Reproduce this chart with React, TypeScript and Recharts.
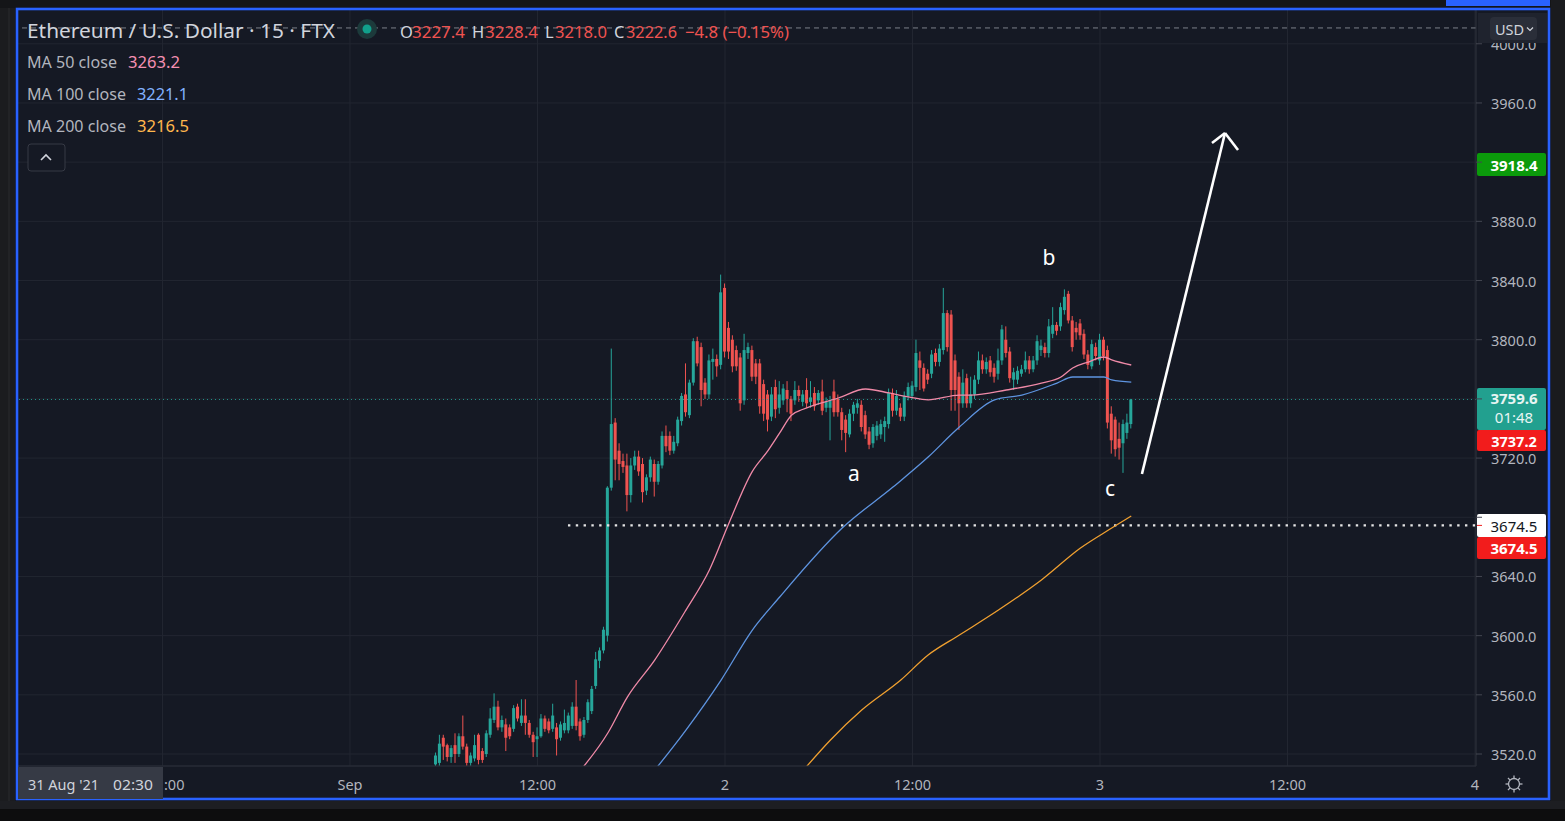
import React from 'react';
import {
  ComposedChart,
  Bar,
  Line,
  XAxis,
  YAxis,
  CartesianGrid,
  ReferenceLine,
  ReferenceDot,
} from 'recharts';

// ---------- data ----------
const START_MIN = 330; // Sep 1 05:30, minutes from Sep 1 00:00
const STEP_MIN = 15;

const opens = [
  3513, 3514, 3531, 3526, 3518, 3526, 3520, 3532, 3525, 3514, 3517, 3533, 3522, 3520, 3533, 3543, 3552, 3538, 3540, 3538,
  3537, 3552, 3541, 3546, 3541, 3533, 3530, 3532, 3544, 3542, 3537, 3538, 3531, 3536, 3536, 3539, 3552, 3542, 3533, 3543,
  3549, 3566, 3583, 3590, 3600, 3700,
  3744, 3725, 3718, 3715, 3695, 3715, 3721, 3716, 3698, 3707, 3716, 3704, 3715, 3735, 3735, 3725, 3730, 3745, 3763, 3749,
  3771, 3799, 3795, 3771, 3763, 3785, 3787,
  3783, 3835, 3808, 3800, 3793, 3788, 3759, 3791, 3793, 3784, 3784, 3770, 3763, 3748,
  3768, 3754, 3759, 3766, 3760, 3759, 3766, 3758, 3766, 3758, 3764, 3759, 3765, 3754, 3754, 3765, 3760, 3751, 3746, 3736,
  3750, 3754, 3756, 3749, 3738, 3730, 3735, 3736, 3741, 3743, 3764, 3752, 3754, 3748, 3762, 3762, 3768, 3786, 3781, 3777,
  3777, 3791, 3785,
  3793, 3818, 3817, 3786, 3775, 3757, 3774, 3757, 3763, 3773, 3786, 3780, 3786, 3781, 3777, 3786, 3800, 3792, 3773, 3773,
  3777, 3780, 3786, 3780, 3786, 3793, 3795, 3791, 3804, 3810, 3809, 3820, 3831, 3813, 3808, 3811, 3804, 3790, 3782, 3795,
  3786, 3800, 3793, 3750, 3746, 3733, 3730, 3737, 3743,
];
const highs = [
  3521, 3533, 3533, 3527, 3526, 3534, 3534, 3546, 3527, 3521, 3533, 3534, 3524, 3536, 3551, 3561, 3556, 3546, 3544, 3540,
  3553, 3554, 3557, 3557, 3543, 3535, 3538, 3547, 3546, 3544, 3554, 3541, 3542, 3550, 3548, 3555, 3570, 3544, 3545, 3557,
  3566, 3589, 3592, 3606, 3701, 3794,
  3747, 3730, 3723, 3723, 3720, 3725, 3725, 3720, 3709, 3721, 3719, 3718, 3738, 3742, 3738, 3735, 3748, 3764, 3784, 3773,
  3801, 3802, 3798, 3774, 3790, 3794, 3790,
  3844, 3838, 3812, 3803, 3796, 3791, 3804, 3798, 3796, 3787, 3787, 3773, 3766, 3768,
  3773, 3772, 3770, 3772, 3762, 3772, 3769, 3766, 3774, 3772, 3768, 3766, 3773, 3761, 3762, 3773, 3763, 3754, 3749, 3753,
  3758, 3760, 3759, 3752, 3741, 3743, 3745, 3746, 3748, 3767, 3767, 3766, 3757, 3765, 3771, 3772, 3800, 3792, 3784, 3780,
  3793, 3794, 3797,
  3835, 3820, 3820, 3790, 3778, 3780, 3777, 3775, 3776, 3792, 3790, 3788, 3789, 3784, 3794, 3810, 3809, 3795, 3781, 3782,
  3783, 3792, 3789, 3789, 3803, 3800, 3798, 3814, 3822, 3812, 3825, 3834, 3833, 3816, 3812, 3814, 3807, 3793, 3800, 3798,
  3804, 3802, 3796, 3755, 3748, 3744, 3746, 3750, 3760,
];
const lows = [
  3511, 3512, 3516, 3515, 3514, 3514, 3518, 3523, 3512, 3512, 3515, 3513, 3514, 3518, 3531, 3541, 3536, 3535, 3522, 3530,
  3535, 3542, 3539, 3533, 3531, 3518, 3518, 3531, 3535, 3534, 3535, 3519, 3529, 3534, 3534, 3537, 3536, 3529, 3531, 3541,
  3547, 3564, 3578, 3588, 3596, 3698,
  3705, 3705, 3710, 3684, 3690, 3712, 3708, 3690, 3695, 3704, 3694, 3702, 3713, 3724, 3722, 3723, 3728, 3742, 3748, 3747,
  3769, 3782, 3755, 3760, 3760, 3773, 3775,
  3780, 3788, 3787, 3778, 3779, 3752, 3756, 3787, 3772, 3770, 3750, 3745, 3738, 3745,
  3747, 3750, 3756, 3751, 3745, 3756, 3758, 3755, 3754, 3754, 3752, 3756, 3749, 3751, 3732, 3748, 3748, 3732, 3724, 3734,
  3745, 3750, 3738, 3733, 3726, 3727, 3732, 3733, 3731, 3740, 3748, 3749, 3745, 3745, 3759, 3760, 3765, 3766, 3765, 3770,
  3774, 3782, 3782,
  3790, 3792, 3752, 3752, 3739, 3754, 3754, 3754, 3760, 3770, 3777, 3777, 3775, 3771, 3773, 3783, 3788, 3771, 3766, 3770,
  3775, 3778, 3777, 3778, 3783, 3789, 3788, 3788, 3801, 3803, 3806, 3817, 3811, 3792, 3800, 3800, 3787, 3780, 3780, 3786,
  3783, 3786, 3740, 3723, 3721, 3719, 3710, 3733, 3740,
];
const closes = [
  3519, 3527, 3525, 3518, 3524, 3520, 3532, 3525, 3514, 3519, 3526, 3516, 3516, 3534, 3544, 3552, 3538, 3543, 3531, 3532,
  3551, 3544, 3546, 3541, 3533, 3528, 3532, 3544, 3537, 3536, 3546, 3530, 3540, 3541, 3546, 3552, 3539, 3532, 3543, 3555,
  3564, 3584, 3590, 3604, 3700, 3743,
  3719, 3716, 3714, 3695, 3715, 3721, 3711, 3697, 3707, 3719, 3704, 3716, 3735, 3728, 3725, 3731, 3746, 3762, 3751, 3771,
  3799, 3784, 3766, 3763, 3786, 3787, 3782,
  3832, 3792, 3792, 3782, 3782, 3757, 3793, 3795, 3775, 3775, 3755, 3750, 3746, 3763,
  3753, 3763, 3767, 3760, 3750, 3766, 3762, 3763, 3757, 3761, 3755, 3764, 3752, 3758, 3759, 3751, 3751, 3739, 3737, 3750,
  3756, 3757, 3741, 3736, 3729, 3741, 3742, 3743, 3745, 3764, 3752, 3762, 3748, 3762, 3768, 3769, 3791, 3781, 3767, 3773,
  3790, 3785, 3794,
  3818, 3795, 3766, 3766, 3757, 3771, 3757, 3763, 3773, 3786, 3780, 3785, 3778, 3775, 3786, 3807, 3791, 3774, 3778, 3779,
  3780, 3786, 3780, 3786, 3799, 3796, 3791, 3809, 3810, 3806, 3822, 3829, 3813, 3795, 3805, 3803, 3790, 3783, 3797, 3789,
  3800, 3789, 3744, 3732, 3726, 3727, 3743, 3744, 3759.6,
];

// moving averages: [minutes, price]
const ma50Points: [number, number][] = [
  [870, 3505.8], [990, 3534.2], [1065, 3558.5], [1170, 3583.5], [1290, 3617.3], [1380, 3644.4], [1455, 3676],
  [1545, 3711], [1605, 3725], [1650, 3737], [1695, 3749], [1740, 3753], [1875, 3760.6], [1980, 3766.7],
  [2070, 3764], [2145, 3761.3], [2220, 3759.3], [2340, 3762.6], [2385, 3762.6], [2520, 3766], [2655, 3770.7],
  [2730, 3774.8], [2775, 3780.9], [2835, 3784.9], [2895, 3788.3], [2925, 3786.3], [3000, 3782.9],
];
const ma100Points: [number, number][] = [
  [1155, 3505.8], [1290, 3536.2], [1425, 3570], [1545, 3603.8], [1650, 3626.1], [1890, 3672.7], [2085, 3700.4],
  [2220, 3720.7], [2340, 3741], [2475, 3759.3], [2580, 3762.6], [2715, 3770.7], [2775, 3774.8], [2895, 3774.8],
  [2925, 3772.8], [3000, 3771.4],
];
const ma200Points: [number, number][] = [
  [1725, 3505.8], [1845, 3529.5], [1965, 3549.7], [2115, 3570], [2220, 3586.9], [2340, 3600.4], [2490, 3617.3],
  [2655, 3637.6], [2805, 3659.2], [2925, 3672.7], [3000, 3680.9],
];

const xTicks = [-720, 0, 720, 1440, 2160, 2880, 3600, 4320];
const xTickLabels = [':00', 'Sep', '12:00', '2', '12:00', '3', '12:00', '4'];
const yTicks = [3520, 3560, 3600, 3640, 3680, 3720, 3760, 3800, 3840, 3880, 3920, 3960, 4000];
const hiddenYTicks = [3680, 3760, 3920];

const lastPrice = 3759.6;
const supportLevel = 3674.5;
const targetLevel = 3918.4;
const bidLevel = 3737.2;
const topDashedLevel = 4010.7;
const supportStart = 837;

// annotation drawing (minutes, price)
const arrowShaft = [{ x: 3041, y: 3709.2 }, { x: 3360, y: 3939.7 }];
const arrowWingL = [{ x: 3310, y: 3933 }, { x: 3360, y: 3939.7 }];
const arrowWingR = [{ x: 3410, y: 3928.2 }, { x: 3360, y: 3939.7 }];
const waveLabels = [
  { t: 1935, p: 3709.9, text: 'a' },
  { t: 2684, p: 3856.1, text: 'b' },
  { t: 2919, p: 3699.8, text: 'c' },
];

// ---------- styles ----------
const BG = '#151924';
const GRID = '#222631';
const AXIS_TEXT = '#b2b5be';
const UP = '#26a69a';
const DOWN = '#ef5350';
const MA50_C = '#f08aa8';
const MA100_C = '#5e94e0';
const MA200_C = '#f0a030';
const FONT = '"Noto Sans", "Open Sans", Lato, sans-serif';

const rows = opens.map((o, i) => ({
  t: START_MIN + i * STEP_MIN,
  open: o,
  high: highs[i],
  low: lows[i],
  close: closes[i],
  range: [lows[i], highs[i]],
  ma50: null as number | null,
  ma100: null as number | null,
  ma200: null as number | null,
}));
const byT = new Map(rows.map((r) => [r.t, r]));
ma50Points.forEach(([t, v]) => { const r = byT.get(t); if (r) r.ma50 = v; });
ma100Points.forEach(([t, v]) => { const r = byT.get(t); if (r) r.ma100 = v; });
ma200Points.forEach(([t, v]) => { const r = byT.get(t); if (r) r.ma200 = v; });

const Candle = (props: any) => {
  const { x, y, width, height, payload } = props;
  if (x == null || y == null || height == null || !payload) return null;
  const { open, close, high, low } = payload;
  const top = Math.min(y, y + height);
  const h = Math.abs(height);
  const ratio = high - low > 0 ? h / (high - low) : 0;
  const yo = top + (high - open) * ratio;
  const yc = top + (high - close) * ratio;
  const up = close >= open;
  const color = up ? UP : DOWN;
  const cx = x + width / 2;
  const bTop = Math.min(yo, yc);
  const bH = Math.max(1, Math.abs(yc - yo));
  return (
    <g>
      <line x1={cx} x2={cx} y1={top} y2={top + h} stroke={color} strokeWidth={1} />
      <rect x={x} y={bTop} width={width} height={bH} fill={color} />
    </g>
  );
};

const YTick = (props: any) => {
  const { x, y, payload } = props;
  if (hiddenYTicks.includes(payload.value)) return <g />;
  return (
    <text x={x} y={y} textAnchor="start" dominantBaseline="central" fill={AXIS_TEXT} fontSize={14.5} fontFamily={FONT}>
      {payload.value.toFixed(1)}
    </text>
  );
};

const XTick = (props: any) => {
  const { x, y, payload } = props;
  const idx = xTicks.indexOf(payload.value);
  const label = idx >= 0 ? xTickLabels[idx] : '';
  // the first label is partly covered by the crosshair time box; only its tail shows
  const partial = idx === 0;
  return (
    <text
      x={partial ? x + 1.5 : x}
      y={y + 16}
      textAnchor={partial ? 'start' : 'middle'}
      dominantBaseline="central"
      fill={AXIS_TEXT}
      fontSize={14.5}
      fontFamily={FONT}
    >
      {label}
    </text>
  );
};

const makeTag = (lines: string[], bg: string, fg: string, top: number, h: number, bold = true, fs = 15) => (props: any) => {
  const vb = props.viewBox || {};
  const ax = (vb.x || 0) + (vb.width || 0);
  const yy = vb.y || 0;
  return (
    <g>
      <line x1={ax + 1} x2={ax + 6} y1={yy} y2={yy} stroke={bg} strokeWidth={1} />
      <rect x={ax + 1} y={yy + top} width={69} height={h} fill={bg} rx={2} />
      {lines.map((s, i) => (
        <text
          key={i}
          x={ax + 38}
          y={yy + top + h / lines.length / 2 + (lines.length > 1 ? i * 19 - 0.5 : 0)}
          textAnchor="middle"
          dominantBaseline="central"
          fill={fg}
          fontSize={fs}
          fontWeight={bold && i === 0 ? 700 : 400}
          fontFamily={FONT}
        >
          {s}
        </text>
      ))}
    </g>
  );
};

const WaveLabel = (text: string) => (props: any) => {
  const vb = props.viewBox || {};
  const cx = (vb.x || 0) + (vb.width || 0) / 2;
  const cy = (vb.y || 0) + (vb.height || 0) / 2;
  return (
    <text x={cx} y={cy} textAnchor="middle" dominantBaseline="central" fill="#ffffff" fontSize={21} fontFamily={FONT}>
      {text}
    </text>
  );
};

export default function App() {
  return (
    <div style={{ position: 'fixed', left: 0, top: 0, width: 1565, height: 821, background: '#111113', overflow: 'hidden' }}>
      {/* page background decorations */}
      <svg width={1565} height={821} style={{ position: 'absolute', left: 0, top: 0 }}>
        <rect x={0} y={0} width={1565} height={821} fill="#111113" />
        <rect x={0} y={0} width={15} height={821} fill="#1b1c1f" />
        <line x1={9} x2={9} y1={0} y2={821} stroke="#2a2b2f" strokeWidth={1} />
        <rect x={0} y={0} width={1565} height={8} fill="#141518" />
        <rect x={1446} y={0} width={104} height={6} fill="#2962ff" />
        <rect x={1551} y={0} width={14} height={821} fill="#1a1b1e" />
        <rect x={0} y={801} width={1565} height={8} fill="#1d1e22" />
        <rect x={0} y={809} width={1565} height={12} fill="#0d0d0e" />
        <rect x={17} y={9} width={1532} height={790} fill={BG} />
      </svg>

      <div style={{ position: 'absolute', left: 17, top: 9 }}>
        <ComposedChart width={1532} height={791} data={rows} margin={{ top: 0, right: 0, bottom: 0, left: 0 }}>
          <CartesianGrid stroke={GRID} strokeWidth={1} />
          <XAxis
            dataKey="t"
            type="number"
            domain={[-1278.7, 4323.8]}
            allowDataOverflow
            ticks={xTicks}
            height={34}
            tick={<XTick />}
            tickLine={false}
            tickSize={0}
            axisLine={{ stroke: '#2a2e39' }}
            interval={0}
          />
          <YAxis
            orientation="right"
            type="number"
            domain={[3511.9, 4023.5]}
            allowDataOverflow
            ticks={yTicks}
            width={73}
            tick={<YTick />}
            tickLine={{ stroke: '#434651' }}
            tickSize={6}
            tickMargin={9}
            axisLine={{ stroke: '#2a2e39' }}
            interval={0}
          />
          <ReferenceLine y={topDashedLevel} stroke="#7c7f89" strokeDasharray="5 4" strokeWidth={1} />
          <ReferenceLine y={lastPrice} stroke={UP} strokeDasharray="1 3" strokeOpacity={0.85} strokeWidth={1} />
          <ReferenceLine
            segment={[{ x: supportStart, y: supportLevel }, { x: 4323, y: supportLevel }]}
            stroke="#e6e6e6"
            strokeWidth={2.2}
            strokeDasharray="2.4 5.4"
            ifOverflow="visible"
          />
          <Bar dataKey="range" barSize={3} shape={<Candle />} isAnimationActive={false} />
          <Line dataKey="ma200" type="monotone" stroke={MA200_C} strokeWidth={1.3} dot={false} activeDot={false} connectNulls isAnimationActive={false} />
          <Line dataKey="ma100" type="monotone" stroke={MA100_C} strokeWidth={1.3} dot={false} activeDot={false} connectNulls isAnimationActive={false} />
          <Line dataKey="ma50" type="monotone" stroke={MA50_C} strokeWidth={1.3} dot={false} activeDot={false} connectNulls isAnimationActive={false} />
          <ReferenceLine segment={arrowShaft} stroke="#ffffff" strokeWidth={2.6} ifOverflow="visible" />
          <ReferenceLine segment={arrowWingL} stroke="#ffffff" strokeWidth={2.6} ifOverflow="visible" />
          <ReferenceLine segment={arrowWingR} stroke="#ffffff" strokeWidth={2.6} ifOverflow="visible" />
          {waveLabels.map((w) => (
            <ReferenceDot key={w.text} x={w.t} y={w.p} r={0} fill="none" stroke="none" label={WaveLabel(w.text)} />
          ))}
          <ReferenceLine y={targetLevel} stroke="none" label={makeTag([targetLevel.toFixed(1)], '#0b9a0b', '#ffffff', -11.5, 23)} />
          <ReferenceLine y={lastPrice} stroke="none" label={makeTag([lastPrice.toFixed(1), '01:48'], '#22a08f', '#e8f5f3', -11.6, 42)} />
          <ReferenceLine y={bidLevel} stroke="none" label={makeTag([bidLevel.toFixed(1)], '#f21c1c', '#ffffff', -2.6, 21, true, 14.5)} />
          <ReferenceLine y={supportLevel} stroke="none" label={makeTag([supportLevel.toFixed(1)], '#ffffff', '#131722', -11.4, 23, false)} />
          <ReferenceLine y={supportLevel} stroke="none" label={makeTag([supportLevel.toFixed(1)], '#f21c1c', '#ffffff', 11.6, 22)} />
        </ComposedChart>
      </div>

      {/* overlay: frame, legend, buttons */}
      <svg width={1565} height={821} style={{ position: 'absolute', left: 0, top: 0, pointerEvents: 'none' }}>
        <rect x={17} y={9} width={1532} height={790} fill="none" stroke="#2962ff" strokeWidth={2.6} />

        <text x={27} y={30} fill="#d1d4dc" fontSize={20} fontFamily={FONT} dominantBaseline="central" textLength={308} lengthAdjust="spacingAndGlyphs">
          Ethereum / U.S. Dollar · 15 · FTX
        </text>
        <circle cx={367} cy={29} r={10} fill="#1c3a3b" />
        <circle cx={367} cy={29} r={4.5} fill="#11a08b" />

        <g fontSize={16.5} fontFamily={FONT} dominantBaseline="central">
          <text x={400} y={31} fill="#d1d4dc">O</text>
          <text x={412} y={31} fill={DOWN} textLength={53} lengthAdjust="spacingAndGlyphs">3227.4</text>
          <text x={472} y={31} fill="#d1d4dc">H</text>
          <text x={485} y={31} fill={DOWN} textLength={53} lengthAdjust="spacingAndGlyphs">3228.4</text>
          <text x={545} y={31} fill="#d1d4dc">L</text>
          <text x={555} y={31} fill={DOWN} textLength={52} lengthAdjust="spacingAndGlyphs">3218.0</text>
          <text x={614} y={31} fill="#d1d4dc">C</text>
          <text x={626} y={31} fill={DOWN} textLength={51} lengthAdjust="spacingAndGlyphs">3222.6</text>
          <text x={685} y={31} fill={DOWN} textLength={104} lengthAdjust="spacingAndGlyphs">−4.8 (−0.15%)</text>
        </g>

        <g fontSize={16.5} fontFamily={FONT} dominantBaseline="central">
          <text x={27} y={61} fill={AXIS_TEXT} textLength={90} lengthAdjust="spacingAndGlyphs">MA 50 close</text>
          <text x={128} y={61} fill="#f48fb1" textLength={52} lengthAdjust="spacingAndGlyphs">3263.2</text>
          <text x={27} y={93} fill={AXIS_TEXT} textLength={99} lengthAdjust="spacingAndGlyphs">MA 100 close</text>
          <text x={137} y={93} fill="#82b1ff" textLength={51} lengthAdjust="spacingAndGlyphs">3221.1</text>
          <text x={27} y={125} fill={AXIS_TEXT} textLength={99} lengthAdjust="spacingAndGlyphs">MA 200 close</text>
          <text x={137} y={125} fill="#ffb74d" textLength={52} lengthAdjust="spacingAndGlyphs">3216.5</text>
        </g>

        <rect x={28} y={144} width={37} height={27} rx={3} fill={BG} stroke="#363a45" strokeWidth={1} />
        <polyline points="41,160 46,155 51,160" fill="none" stroke="#d1d4dc" strokeWidth={1.6} />

        <rect x={1478} y={13} width={69} height={30} fill="#1f232e" />
        <rect x={1490} y={17} width={47} height={23} rx={4} fill="#2a2e39" />
        <text x={1495} y={29} fill="#d1d4dc" fontSize={14.5} fontFamily={FONT} dominantBaseline="central">USD</text>
        <polyline points="1527,27.5 1530,30.5 1533,27.5" fill="none" stroke="#d1d4dc" strokeWidth={1.2} />

        <rect x={18} y={767} width={145} height={32} fill="#363a45" />
        <text x={28} y={784} fill="#d1d4dc" fontSize={14.5} fontFamily={FONT} dominantBaseline="central" textLength={71} lengthAdjust="spacingAndGlyphs">31 Aug '21</text>
        <text x={113} y={784} fill="#d1d4dc" fontSize={14.5} fontFamily={FONT} dominantBaseline="central" textLength={40} lengthAdjust="spacingAndGlyphs">02:30</text>

        <g stroke="#b2b5be" strokeWidth={1.3} fill="none">
          <circle cx={1514} cy={784} r={5.5} />
          {[0, 45, 90, 135, 180, 225, 270, 315].map((a) => {
            const r = (a * Math.PI) / 180;
            return (
              <line key={a} x1={1514 + 5.5 * Math.cos(r)} y1={784 + 5.5 * Math.sin(r)} x2={1514 + 8.5 * Math.cos(r)} y2={784 + 8.5 * Math.sin(r)} />
            );
          })}
        </g>
      </svg>
    </div>
  );
}
